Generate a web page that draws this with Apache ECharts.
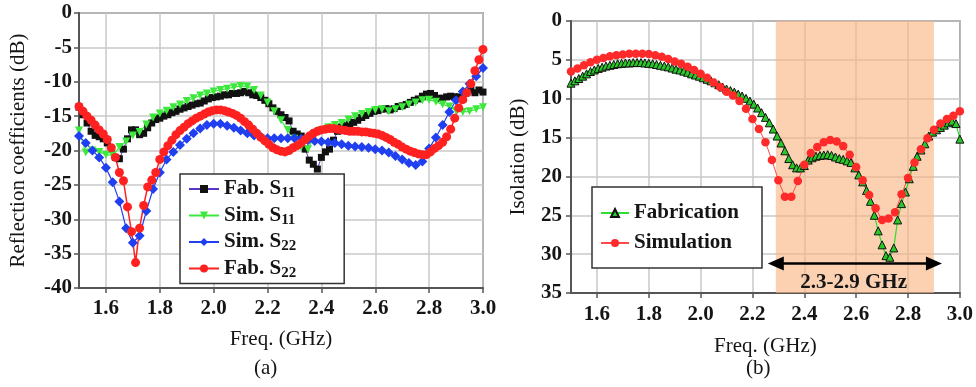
<!DOCTYPE html>
<html>
<head>
<meta charset="utf-8">
<script src="https://cdn.jsdelivr.net/npm/echarts@6/dist/echarts.min.js"></script>
<style>html,body{margin:0;padding:0;background:#fff;}#c{width:976px;height:387px;}</style>
</head>
<body>
<div id="c"></div>
<script>
// ---------- data ----------
const xTicks = [1.6, 1.8, 2.0, 2.2, 2.4, 2.6, 2.8, 3.0];

const freqFine = [
1.500,1.515,1.530,1.545,1.560,1.575,1.590,1.605,1.620,1.635,
1.650,1.665,1.680,1.695,1.710,1.725,1.740,1.755,1.770,1.785,
1.800,1.815,1.830,1.845,1.860,1.875,1.890,1.905,1.920,1.935,
1.950,1.965,1.980,1.995,2.010,2.025,2.040,2.055,2.070,2.085,
2.100,2.115,2.130,2.145,2.160,2.175,2.190,2.205,2.220,2.235,
2.250,2.265,2.280,2.295,2.310,2.325,2.340,2.355,2.370,2.385,
2.400,2.415,2.430,2.445,2.460,2.475,2.490,2.505,2.520,2.535,
2.550,2.565,2.580,2.595,2.610,2.625,2.640,2.655,2.670,2.685,
2.700,2.715,2.730,2.745,2.760,2.775,2.790,2.805,2.820,2.835,
2.850,2.865,2.880,2.895,2.910,2.925,2.940,2.955,2.970,2.985,
3.000];

const freqSim = [
1.500,1.525,1.550,1.575,1.600,1.625,1.650,1.675,1.700,1.725,
1.750,1.775,1.800,1.825,1.850,1.875,1.900,1.925,1.950,1.975,
2.000,2.025,2.050,2.075,2.100,2.125,2.150,2.175,2.200,2.225,
2.250,2.275,2.300,2.325,2.350,2.375,2.400,2.425,2.450,2.475,
2.500,2.525,2.550,2.575,2.600,2.625,2.650,2.675,2.700,2.725,
2.750,2.775,2.800,2.825,2.850,2.875,2.900,2.925,2.950,2.975,
3.000];

// (a) reflection coefficients, dB
const fabS11 = [
-13.7,-14.8,-16.0,-17.2,-17.8,-18.0,-18.3,-18.9,-19.8,-21.0,
-21.2,-19.8,-18.3,-17.0,-17.0,-17.7,-17.5,-16.7,-16.0,-15.5,
-15.3,-15.0,-14.8,-14.5,-14.3,-14.0,-13.8,-13.6,-13.4,-13.2,
-13.1,-12.8,-12.5,-12.3,-12.2,-12.1,-11.9,-11.9,-11.7,-11.7,
-11.6,-11.4,-11.6,-11.9,-12.0,-12.3,-12.7,-13.2,-13.8,-14.3,
-14.8,-15.2,-15.7,-17.2,-17.6,-17.9,-19.8,-21.4,-22.0,-22.7,
-21.0,-20.2,-19.8,-18.5,-17.2,-16.6,-16.4,-16.2,-15.9,-15.6,
-15.2,-14.9,-14.6,-14.3,-14.2,-14.0,-13.9,-14.1,-13.9,-13.6,
-13.5,-13.3,-13.0,-12.7,-12.5,-12.1,-11.8,-11.7,-12.0,-12.4,
-12.4,-12.2,-12.1,-12.2,-12.2,-12.5,-11.6,-11.2,-11.6,-11.2,
-11.5];

const simS11 = [
-17.1,-20.3,-20.0,-20.2,-20.6,-20.7,-19.5,-18.7,-17.8,-17.3,
-16.2,-15.2,-14.6,-14.2,-13.7,-13.3,-12.8,-12.4,-12.0,-11.7,
-11.4,-11.2,-11.0,-10.8,-10.6,-10.7,-11.2,-12.0,-13.0,-14.3,
-15.6,-17.0,-18.3,-19.5,-19.8,-17.8,-17.0,-16.6,-16.3,-16.0,
-15.5,-15.0,-14.7,-14.4,-14.1,-14.0,-14.3,-14.0,-13.7,-13.3,
-13.0,-12.7,-12.6,-12.9,-13.3,-13.6,-14.2,-14.4,-14.3,-14.0,
-13.7];

const simS22 = [
-17.9,-18.9,-20.0,-21.0,-22.5,-24.6,-27.4,-31.3,-33.4,-32.4,
-28.8,-25.6,-23.2,-21.3,-20.2,-19.2,-18.3,-17.5,-16.8,-16.3,
-16.1,-16.1,-16.4,-16.7,-17.1,-17.5,-17.8,-18.0,-18.2,-18.2,
-18.2,-18.2,-18.2,-18.3,-18.5,-18.6,-18.7,-18.8,-18.9,-19.1,
-19.3,-19.4,-19.5,-19.6,-19.8,-20.0,-20.3,-20.8,-21.3,-21.8,
-22.1,-21.6,-19.7,-18.1,-16.3,-14.4,-12.7,-11.4,-10.3,-9.2,
-8.0];

const fabS22 = [
-13.6,-14.3,-15.0,-15.6,-16.3,-17.0,-17.6,-18.4,-19.6,-21.0,
-23.2,-24.4,-28.2,-31.8,-36.3,-31.3,-28.0,-25.3,-24.3,-23.2,
-21.3,-20.2,-19.3,-18.5,-17.7,-17.1,-16.6,-16.1,-15.7,-15.3,
-15.0,-14.7,-14.4,-14.2,-14.1,-14.1,-14.2,-14.4,-14.6,-14.9,
-15.3,-15.8,-16.3,-16.9,-17.5,-18.1,-18.6,-19.1,-19.6,-19.9,
-20.1,-20.2,-20.0,-19.6,-19.3,-18.9,-18.4,-17.9,-17.5,-17.2,
-17.0,-16.9,-16.8,-16.8,-16.9,-17.0,-17.1,-17.2,-17.2,-17.2,
-17.3,-17.3,-17.4,-17.5,-17.6,-17.8,-18.1,-18.4,-18.8,-19.1,
-19.5,-19.8,-20.1,-20.3,-20.5,-20.6,-20.6,-20.2,-19.7,-19.3,
-18.8,-18.0,-16.9,-15.3,-13.8,-12.6,-11.6,-10.3,-8.4,-6.8,
-5.3];

// (b) isolation, dB
const fabIso = [
8.0,7.7,7.4,7.1,6.8,6.5,6.3,6.1,5.95,5.8,
5.7,5.6,5.5,5.45,5.4,5.4,5.35,5.35,5.35,5.4,
5.45,5.5,5.6,5.7,5.8,5.9,6.05,6.2,6.3,6.45,
6.6,6.8,6.95,7.1,7.3,7.5,7.7,7.95,8.2,8.5,
8.75,8.95,9.15,9.4,9.65,9.95,10.3,10.7,11.2,11.8,
12.4,13.1,13.9,14.8,15.7,16.7,17.7,18.5,18.9,18.9,
18.6,17.9,17.6,17.4,17.3,17.25,17.2,17.3,17.5,17.7,
17.8,18.0,18.2,18.9,19.8,20.7,21.8,23.2,25.0,27.0,
28.8,30.2,30.4,29.2,25.6,23.5,22.0,20.3,18.7,17.4,
16.6,15.8,14.8,14.3,14.0,13.7,13.4,13.1,12.9,13.2,
15.2];

const simIso = [
6.5,6.1,5.7,5.3,5.0,4.75,4.55,4.4,4.3,4.2,
4.2,4.2,4.25,4.4,4.6,4.9,5.2,5.5,5.9,6.3,
6.8,7.3,7.9,8.5,9.1,9.6,10.3,11.3,12.6,13.9,
15.6,17.9,20.5,22.6,22.6,20.6,18.5,17.0,16.2,15.6,
15.3,15.5,16.1,17.2,18.8,20.5,22.4,24.1,25.6,25.4,
24.6,22.3,20.2,18.2,16.5,15.1,14.0,13.2,12.6,12.2,
11.6];

const bandRange = [2.29, 2.9];
const bandArrowY = 31.2;
const bandLabel = '2.3-2.9 GHz';
const bandLabelPos = [2.59, 33.7];

// ---------- chart ----------
const zip = (xs, ys) => xs.map((x, i) => [x, ys[i]]);
const FONT = 'Liberation Serif';
const TXT = '#151515';

function xAxisCfg(gi, margin, gap) {
  return {
    type: 'value', gridIndex: gi, min: 1.5, max: 3.0,
    name: 'Freq. (GHz)', nameLocation: 'middle', nameGap: gap,
    nameTextStyle: {fontFamily: FONT, fontSize: 21, color: TXT},
    axisLine: {show: true, onZero: false, lineStyle: {color: '#555', width: 2}},
    axisTick: {show: true, customValues: xTicks, length: 5, lineStyle: {color: '#555', width: 1.5}},
    axisLabel: {customValues: xTicks, margin: margin, fontFamily: FONT, fontWeight: 'bold', fontSize: 21, color: TXT,
      formatter: v => v.toFixed(1)},
    splitLine: {show: true, lineStyle: {color: '#c8c8c8', width: 1.5}}
  };
}

function yAxisCfg(gi, opts) {
  return Object.assign({
    type: 'value', gridIndex: gi, interval: 5,
    nameLocation: 'middle', nameRotate: 90,
    nameTextStyle: {fontFamily: FONT, fontSize: 21, color: TXT},
    axisLine: {show: true, onZero: false, lineStyle: {color: '#555', width: 2}},
    axisTick: {show: true, length: 5, lineStyle: {color: '#555', width: 1.5}},
    splitLine: {show: true, lineStyle: {color: '#c8c8c8', width: 1.5}}
  }, opts);
}

const legendText = {
  fontFamily: FONT, fontWeight: 'bold', fontSize: 21, color: TXT, lineHeight: 24,
  rich: {
    sub: {fontFamily: FONT, fontWeight: 'bold', fontSize: 15, color: TXT, lineHeight: 15, verticalAlign: 'bottom'}
  }
};

const chart = echarts.init(document.getElementById('c'), null, {renderer: 'canvas'});
chart.setOption({
  animation: false,
  backgroundColor: '#ffffff',
  grid: [
    {left: 79, top: 13, width: 404, height: 275, show: true, borderColor: '#555', borderWidth: 1.5, backgroundColor: 'transparent'},
    {left: 571, top: 21, width: 399, height: 272, show: true, borderColor: '#555', borderWidth: 1.5, backgroundColor: 'transparent'}
  ],
  xAxis: [xAxisCfg(0, 10, 41), xAxisCfg(1, 11, 43)],
  yAxis: [
    yAxisCfg(0, {min: -40, max: 0, name: 'Reflection coefficients (dB)', nameGap: 50,
      axisLabel: {fontFamily: FONT, fontWeight: 'bold', fontSize: 21, color: TXT, margin: 7}}),
    yAxisCfg(1, {min: 0, max: 35, inverse: true, name: 'Isolation (dB)', nameGap: 42,
      axisLabel: {fontFamily: FONT, fontWeight: 'bold', fontSize: 21, color: TXT, margin: 9}})
  ],
  legend: [
    {
      data: ['Fab. S11', 'Sim. S11', 'Sim. S22', 'Fab. S22'],
      orient: 'vertical', left: 180, top: 174,
      itemWidth: 30, itemHeight: 10, itemGap: 2.5,
      padding: [3, 48, 3, 8],
      borderColor: '#333', borderWidth: 1.5, backgroundColor: '#fff',
      textStyle: legendText,
      formatter: n => n.replace(/S(\d\d)/, 'S{sub|$1}'),
      selectedMode: false
    },
    {
      data: ['Fabrication', 'Simulation'],
      orient: 'vertical', left: 592, top: 187,
      itemWidth: 28, itemHeight: 10, itemGap: 6,
      padding: [14, 23, 13, 8],
      borderColor: '#333', borderWidth: 1.5, backgroundColor: '#fff',
      textStyle: legendText,
      selectedMode: false
    }
  ],
  graphic: [
    {type: 'text', left: 254, top: 358, style: {text: '(a)', font: '21px "Liberation Serif"', fill: TXT}},
    {type: 'text', left: 746, top: 358, style: {text: '(b)', font: '21px "Liberation Serif"', fill: TXT}}
  ],
  series: [
    {
      name: 'Fab. S11', type: 'line', xAxisIndex: 0, yAxisIndex: 0,
      data: zip(freqFine, fabS11),
      symbol: 'rect', symbolSize: 7, showAllSymbol: true,
      lineStyle: {color: '#5a35c8', width: 1},
      itemStyle: {color: '#111'}
    },
    {
      name: 'Sim. S11', type: 'line', xAxisIndex: 0, yAxisIndex: 0,
      data: zip(freqSim, simS11),
      symbol: 'triangle', symbolRotate: 180, symbolSize: 8, showAllSymbol: true,
      lineStyle: {color: '#3de83d', width: 1.2},
      itemStyle: {color: '#3de83d'}
    },
    {
      name: 'Sim. S22', type: 'line', xAxisIndex: 0, yAxisIndex: 0,
      data: zip(freqSim, simS22),
      symbol: 'diamond', symbolSize: 10, showAllSymbol: true,
      lineStyle: {color: '#1f3ff0', width: 1.2},
      itemStyle: {color: '#1f3ff0'}
    },
    {
      name: 'Fab. S22', type: 'line', xAxisIndex: 0, yAxisIndex: 0,
      data: zip(freqFine, fabS22),
      symbol: 'circle', symbolSize: 9, showAllSymbol: true,
      lineStyle: {color: '#ff2020', width: 1.5},
      itemStyle: {color: '#ff2020'}
    },
    {
      name: 'Fabrication', type: 'line', xAxisIndex: 1, yAxisIndex: 1,
      data: zip(freqFine, fabIso),
      symbol: 'triangle', symbolSize: 8, showAllSymbol: true,
      lineStyle: {color: '#2ede2e', width: 1.2},
      itemStyle: {color: '#28c828', borderColor: '#111', borderWidth: 1},
      markArea: {
        silent: true,
        itemStyle: {color: 'rgba(248,180,130,0.62)'},
        data: [[{xAxis: bandRange[0]}, {xAxis: bandRange[1]}]]
      }
    },
    {
      name: 'Simulation', type: 'line', xAxisIndex: 1, yAxisIndex: 1,
      data: zip(freqSim, simIso),
      symbol: 'circle', symbolSize: 8.5, showAllSymbol: true,
      lineStyle: {color: '#ff4a4a', width: 1},
      itemStyle: {color: '#ff2a2a'},
      markLine: {
        silent: true, animation: false,
        symbol: ['triangle', 'triangle'], symbolSize: [14, 16],
        lineStyle: {color: '#000', width: 2.5, type: 'solid'},
        label: {show: false},
        data: [[{coord: [bandRange[0], bandArrowY]}, {coord: [bandRange[1], bandArrowY]}]]
      },
      markPoint: {
        silent: true, animation: false,
        symbol: 'circle', symbolSize: 1,
        itemStyle: {color: 'rgba(0,0,0,0)'},
        label: {show: true, position: 'inside', formatter: bandLabel,
          fontFamily: FONT, fontWeight: 'bold', fontSize: 21, color: TXT},
        data: [{coord: bandLabelPos}]
      }
    }
  ]
});
</script>
</body>
</html>
